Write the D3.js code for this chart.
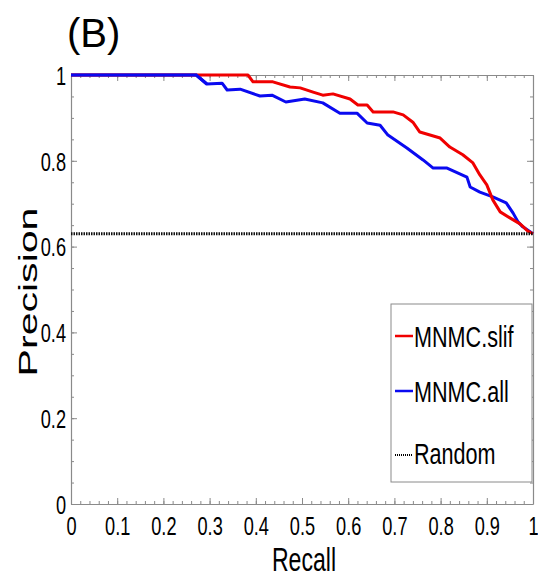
<!DOCTYPE html>
<html>
<head>
<meta charset="utf-8">
<script src="https://cdn.jsdelivr.net/npm/d3@7"></script>
<style>
  body { margin: 0; background: #fff; }
  svg { display: block; }
  text { font-family: "Liberation Sans", Arial, sans-serif; fill: #000; }
</style>
</head>
<body>
<svg id="chart" width="538" height="579"></svg>
<script>
// recall / precision
const slifRecall = [0, 0.383, 0.394, 0.437, 0.474, 0.496, 0.524, 0.545, 0.567, 0.604, 0.621, 0.641,
  0.654, 0.697, 0.719, 0.740, 0.755, 0.799, 0.820, 0.848, 0.870, 0.885, 0.900, 0.913, 0.929,
  0.950, 0.972, 0.989, 1.0];
const slifPrecision = [1, 1, 0.984, 0.984, 0.972, 0.970, 0.960, 0.953, 0.956, 0.944, 0.930, 0.930,
  0.914, 0.914, 0.907, 0.890, 0.867, 0.853, 0.832, 0.814, 0.795, 0.767, 0.744, 0.709, 0.681,
  0.667, 0.653, 0.636, 0.63];

const allRecall = [0, 0.271, 0.294, 0.327, 0.338, 0.366, 0.409, 0.435, 0.465, 0.506, 0.545, 0.582,
  0.619, 0.641, 0.669, 0.686, 0.727, 0.762, 0.784, 0.814, 0.857, 0.864, 0.885, 0.913, 0.942,
  0.957, 0.968, 0.978, 1.0];
const allPrecision = [1, 1, 0.979, 0.981, 0.965, 0.967, 0.951, 0.953, 0.937, 0.944, 0.935, 0.911,
  0.911, 0.888, 0.883, 0.860, 0.830, 0.802, 0.783, 0.783, 0.762, 0.739, 0.727, 0.716, 0.702,
  0.678, 0.657, 0.646, 0.63];

const randomPrecision = 0.63;

const seriesNames = ['MNMC.slif', 'MNMC.all', 'Random'];
const seriesColors = ['#f00000', '#0a0af0', '#000'];

const xTicks = [0, 0.1, 0.2, 0.3, 0.4, 0.5, 0.6, 0.7, 0.8, 0.9, 1];
const yTicks = [0, 0.2, 0.4, 0.6, 0.8, 1];
const xMinor = d3.range(0, 1.0001, 0.02);
const yMinor = d3.range(0, 1.0001, 0.05);

const svg = d3.select('#chart');
const pad = { left: 71, right: 533, top: 75, bottom: 504 };

const x = d3.scaleLinear().domain([0, 1]).range([pad.left, pad.right]);
const y = d3.scaleLinear().domain([0, 1]).range([pad.bottom, pad.top]);

const axisColor = '#8a8a8a';

// title
svg.append('text')
  .attr('x', 67).attr('y', 47)
  .attr('font-size', 40)
  .text('(B)');

// minor ticks (inward, all four sides)
function minorAxis(axisFn, scale, vals, tr) {
  const g = svg.append('g').attr('transform', tr)
    .call(axisFn(scale).tickValues(vals).tickSizeInner(-3).tickSizeOuter(0).tickFormat(''));
  g.selectAll('line').attr('stroke', axisColor);
  g.select('.domain').remove();
}
minorAxis(d3.axisBottom, x, xMinor, `translate(0,${pad.bottom})`);
minorAxis(d3.axisTop, x, xMinor, `translate(0,${pad.top})`);
minorAxis(d3.axisLeft, y, yMinor, `translate(${pad.left},0)`);
minorAxis(d3.axisRight, y, yMinor, `translate(${pad.right},0)`);

// major axes
const xAxis = svg.append('g').attr('transform', `translate(0,${pad.bottom})`)
  .call(d3.axisBottom(x).tickValues(xTicks).tickSizeInner(-6).tickSizeOuter(0).tickPadding(31)
    .tickFormat((d) => d3.format('')(d)));
const xTop = svg.append('g').attr('transform', `translate(0,${pad.top})`)
  .call(d3.axisTop(x).tickValues(xTicks).tickSizeInner(-6).tickSizeOuter(0).tickFormat(''));
const yAxis = svg.append('g').attr('transform', `translate(${pad.left},0)`)
  .call(d3.axisLeft(y).tickValues(yTicks).tickSizeInner(-6).tickSizeOuter(0).tickPadding(4)
    .tickFormat((d) => d3.format('')(d)));
const yRight = svg.append('g').attr('transform', `translate(${pad.right},0)`)
  .call(d3.axisRight(y).tickValues(yTicks).tickSizeInner(-6).tickSizeOuter(0).tickFormat(''));

[xAxis, xTop, yAxis, yRight].forEach((g) => {
  g.selectAll('line').attr('stroke', axisColor);
  g.select('.domain').attr('stroke', axisColor).attr('stroke-width', 1.2);
});

xAxis.selectAll('text')
  .attr('font-size', 26)
  .attr('font-family', '"Liberation Sans", Arial, sans-serif')
  .attr('fill', '#000')
  .attr('dy', 0)
  .attr('transform', 'scale(0.7,1)');

yAxis.selectAll('text')
  .attr('font-size', 26)
  .attr('font-family', '"Liberation Sans", Arial, sans-serif')
  .attr('fill', '#000')
  .attr('x', -5 / 0.7)
  .attr('dy', '0.36em')
  .attr('transform', 'scale(0.7,1)');

// axis titles (the source squeezes / stretches its lettering)
svg.append('text')
  .attr('transform', 'translate(304,571) scale(0.7,1)')
  .attr('text-anchor', 'middle')
  .attr('font-size', 33)
  .text('Recall');

svg.append('text')
  .attr('transform', 'translate(37,292) rotate(-90) scale(1.58,1)')
  .attr('text-anchor', 'middle')
  .attr('font-size', 26)
  .text('Precision');

// curves
const line = d3.line().x((d) => x(d[0])).y((d) => y(d[1]));

svg.append('path')
  .datum(d3.zip(allRecall, allPrecision))
  .attr('fill', 'none')
  .attr('stroke', seriesColors[1])
  .attr('stroke-width', 3)
  .attr('stroke-linejoin', 'round')
  .attr('d', line);

svg.append('path')
  .datum(d3.zip(slifRecall, slifPrecision))
  .attr('fill', 'none')
  .attr('stroke', seriesColors[0])
  .attr('stroke-width', 3)
  .attr('stroke-linejoin', 'round')
  .attr('d', line);

// blue drawn above red near the top-left where they overlap
svg.append('path')
  .datum(d3.zip(allRecall.slice(0, 3), allPrecision.slice(0, 3)))
  .attr('fill', 'none')
  .attr('stroke', seriesColors[1])
  .attr('stroke-width', 3)
  .attr('d', line);

svg.append('line')
  .attr('x1', x(0)).attr('x2', x(1))
  .attr('y1', y(randomPrecision)).attr('y2', y(randomPrecision))
  .attr('stroke', '#111')
  .attr('stroke-width', 3)
  .attr('stroke-dasharray', '1.5,1');

// legend
const legend = svg.append('g');
legend.append('rect')
  .attr('x', 391).attr('y', 304)
  .attr('width', 141).attr('height', 178)
  .attr('fill', '#fff')
  .attr('stroke', axisColor)
  .attr('stroke-width', 1);

const legendBase = [347, 402, 464];
seriesNames.forEach((name, i) => {
  const ly = legendBase[i] - 11 + (i === 2 ? 2 : 0);
  legend.append('line')
    .attr('x1', 395).attr('x2', 413)
    .attr('y1', ly).attr('y2', ly)
    .attr('stroke', seriesColors[i])
    .attr('stroke-width', i === 2 ? 2 : 2.5)
    .attr('stroke-dasharray', i === 2 ? '1,1' : null);
  legend.append('text')
    .attr('transform', `translate(414,${legendBase[i]}) scale(0.72,1)`)
    .attr('font-size', 30)
    .text(name);
});
</script>
</body>
</html>
